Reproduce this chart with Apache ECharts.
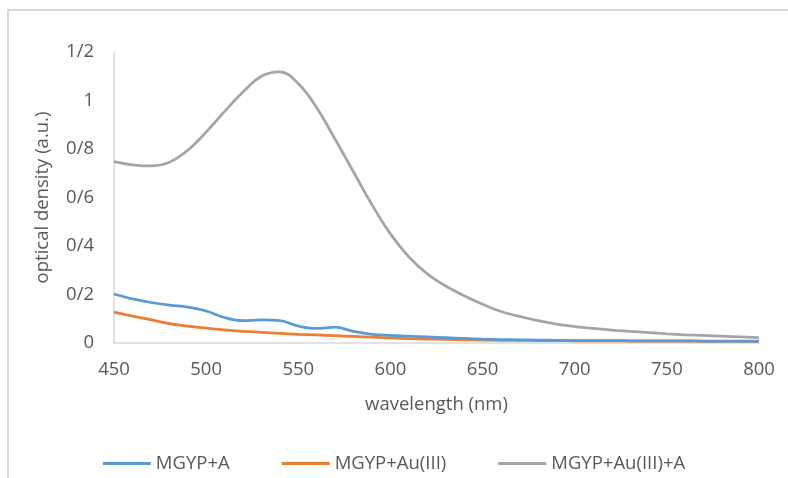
<!DOCTYPE html>
<html>
<head>
<meta charset="utf-8">
<script src="https://cdn.jsdelivr.net/npm/echarts@6/dist/echarts.min.js"></script>
<style>
  html, body { margin: 0; padding: 0; background: #fff; }
  #chart { width: 788px; height: 478px; }
</style>
</head>
<body>
<div id="chart"></div>
<script>
// wavelength (nm), one reading every 10 nm
const wavelengths = [450, 460, 470, 480, 490, 500, 510, 520, 530, 540, 550, 560, 570, 580, 590, 600, 610, 620,
  630, 640, 650, 660, 670, 680, 690, 700, 710, 720, 730, 740, 750, 760, 770, 780, 790, 800]

const mgypA = [0.202, 0.182, 0.167, 0.156, 0.148, 0.132, 0.105, 0.092, 0.095, 0.092, 0.070, 0.060, 0.065, 0.048,
  0.036, 0.031, 0.028, 0.025, 0.022, 0.019, 0.016, 0.014, 0.013, 0.012, 0.011, 0.010, 0.010, 0.010, 0.009,
  0.009, 0.009, 0.009, 0.008, 0.008, 0.008, 0.008]

const mgypAu = [0.127, 0.111, 0.096, 0.080, 0.070, 0.061, 0.054, 0.048, 0.044, 0.040, 0.036, 0.033, 0.030, 0.027,
  0.024, 0.021, 0.018, 0.016, 0.015, 0.013, 0.012, 0.011, 0.011, 0.010, 0.010, 0.009, 0.009, 0.009, 0.008,
  0.008, 0.008, 0.008, 0.007, 0.007, 0.007, 0.007]

const mgypAuA = [0.748, 0.735, 0.730, 0.745, 0.795, 0.870, 0.955, 1.035, 1.100, 1.118, 1.070, 0.970, 0.840, 0.705,
  0.570, 0.450, 0.355, 0.285, 0.235, 0.195, 0.160, 0.130, 0.110, 0.092, 0.078, 0.068, 0.060, 0.053, 0.048,
  0.043, 0.038, 0.034, 0.031, 0.028, 0.025, 0.022]

const seriesNames = ['MGYP+A', 'MGYP+Au(III)', 'MGYP+Au(III)+A']
const seriesColors = ['#5b9bd5', '#ed7d31', '#a5a5a5']

const FONT = '"Open Sans", "Noto Sans", sans-serif'
const TEXT = '#595959'

const pairs = (ys) => wavelengths.map((x, i) => [x, ys[i]])

const chart = echarts.init(document.getElementById('chart'))
chart.setOption({
  animation: false,
  textStyle: { fontFamily: FONT },
  graphic: [{
    type: 'rect',
    shape: { x: 8, y: 10, width: 820, height: 520 },
    style: { fill: 'none', stroke: '#d9d9d9', lineWidth: 2 },
    silent: true
  }],
  grid: { left: 114, right: 29, top: 52, bottom: 135 },
  legend: {
    bottom: 0, left: 'center',
    icon: 'rect', itemWidth: 48, itemHeight: 3, itemGap: 52,
    textStyle: { color: TEXT, fontSize: 18.5, fontFamily: FONT },
    data: seriesNames
  },
  xAxis: {
    type: 'value', min: 450, max: 800, interval: 50,
    name: 'wavelength (nm)', nameLocation: 'middle', nameGap: 52,
    nameTextStyle: { color: TEXT, fontSize: 18.5 },
    axisLine: { show: true, lineStyle: { color: '#d9d9d9', width: 1.5 } },
    axisTick: { show: false },
    axisLabel: { color: TEXT, fontSize: 18.5, margin: 17 },
    splitLine: { show: false }
  },
  yAxis: {
    type: 'value', min: 0, max: 1.2, interval: 0.2,
    name: 'optical density (a.u.)', nameLocation: 'middle', nameGap: 62,
    nameTextStyle: { color: TEXT, fontSize: 18.5 },
    axisLine: { show: true, lineStyle: { color: '#d9d9d9', width: 1.5 } },
    axisTick: { show: false },
    axisLabel: {
      color: TEXT, fontSize: 18.5, margin: 20,
      formatter: (v) => String(Math.round(v * 10) / 10).replace('.', '/')
    },
    splitLine: { show: false }
  },
  series: [mgypA, mgypAu, mgypAuA].map((ys, i) => ({
    name: seriesNames[i], type: 'line', smooth: 0.4, symbol: 'none',
    data: pairs(ys),
    itemStyle: { color: seriesColors[i] },
    lineStyle: { color: seriesColors[i], width: 2.75 },
    z: 3 - i
  }))
})
</script>
</body>
</html>
